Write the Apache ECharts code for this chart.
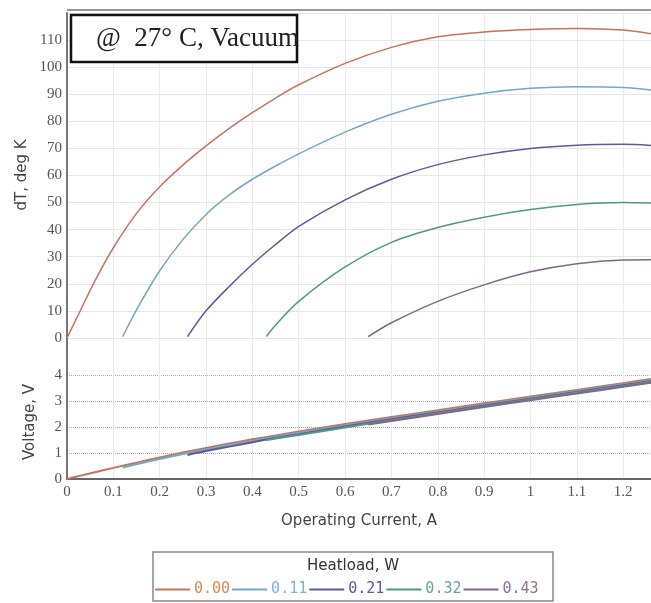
<!DOCTYPE html>
<html>
<head>
<meta charset="utf-8">
<script src="https://cdn.jsdelivr.net/npm/echarts@6/dist/echarts.min.js"></script>
<style>
  html, body { margin: 0; padding: 0; background: #fff; }
  #chart { width: 651px; height: 603px; }
</style>
</head>
<body>
<div id="chart"></div>
<script>
// heatload curves
const heatloads = ['0.00', '0.11', '0.21', '0.32', '0.43']

const current00 = [0, 0.03, 0.06, 0.1, 0.15, 0.2, 0.25, 0.3, 0.35, 0.4, 0.45, 0.5, 0.6, 0.7, 0.8, 0.9, 1.0, 1.1, 1.2, 1.26]
const dT00 = [0, 10.5, 21, 33.3, 46, 55.8, 63.8, 70.9, 77.4, 83.2, 88.6, 93.5, 101.4, 107.3, 111.2, 113, 113.9, 114.3, 113.7, 112.3]
const volt00 = [0, 0.13, 0.26, 0.43, 0.63, 0.83, 1.02, 1.2, 1.37, 1.53, 1.68, 1.83, 2.12, 2.39, 2.65, 2.92, 3.18, 3.44, 3.7, 3.86]

const current11 = [0.12, 0.15, 0.2, 0.25, 0.3, 0.35, 0.4, 0.45, 0.5, 0.6, 0.7, 0.8, 0.9, 1.0, 1.1, 1.2, 1.26]
const dT11 = [0.5, 10.4, 24.8, 36.3, 45.6, 52.8, 58.6, 63.5, 68, 76, 82.6, 87.4, 90.4, 92.2, 92.8, 92.5, 91.6]
const volt11 = [0.44, 0.57, 0.77, 0.96, 1.14, 1.31, 1.47, 1.63, 1.78, 2.07, 2.34, 2.6, 2.87, 3.13, 3.39, 3.65, 3.81]

const current21 = [0.26, 0.3, 0.35, 0.4, 0.45, 0.5, 0.6, 0.7, 0.8, 0.9, 1.0, 1.1, 1.2, 1.26]
const dT21 = [0.5, 10, 19, 27.2, 34.5, 41.2, 51, 58.6, 64, 67.6, 70, 71.2, 71.5, 71.1]
const volt21 = [0.93, 1.08, 1.25, 1.42, 1.58, 1.73, 2.03, 2.31, 2.57, 2.84, 3.1, 3.36, 3.62, 3.78]

const current32 = [0.43, 0.45, 0.5, 0.6, 0.7, 0.8, 0.9, 1.0, 1.1, 1.2, 1.26]
const dT32 = [0.5, 4.8, 13.5, 26.2, 35.3, 40.8, 44.6, 47.4, 49.3, 50, 49.8]
const volt32 = [1.5, 1.56, 1.7, 1.99, 2.27, 2.54, 2.81, 3.07, 3.33, 3.59, 3.75]

const current43 = [0.65, 0.7, 0.8, 0.9, 1.0, 1.1, 1.2, 1.26]
const dT43 = [0.5, 5.6, 13.5, 19.6, 24.4, 27.4, 28.8, 28.9]
const volt43 = [2.1, 2.24, 2.51, 2.78, 3.04, 3.3, 3.56, 3.72]

const lineColors = ['#c8735a', '#72a9c9', '#5b5a9e', '#4e9a84', '#84658c']
const legendColors = ['#d98c50', '#7eb3d6', '#5a58a8', '#5fa592', '#8e6f98']

const currents = [current00, current11, current21, current32, current43]
const dTs = [dT00, dT11, dT21, dT32, dT43]
const volts = [volt00, volt11, volt21, volt32, volt43]

const tickFont = { fontFamily: 'Liberation Serif', fontSize: 15, color: '#555' }
const nameFont = { fontFamily: 'DejaVu Sans', fontSize: 15, color: '#444' }

const chart = echarts.init(document.getElementById('chart'))

const series = []
heatloads.forEach((name, i) => {
  series.push({
    name: name,
    type: 'line',
    xAxisIndex: 0,
    yAxisIndex: 0,
    symbol: 'none',
    smooth: 0.3,
    lineStyle: { width: 1.5, color: lineColors[i] },
    itemStyle: { color: lineColors[i] },
    data: currents[i].map((c, k) => [c, dTs[i][k]])
  })
})
heatloads.forEach((name, i) => {
  series.push({
    name: name,
    type: 'line',
    xAxisIndex: 1,
    yAxisIndex: 1,
    symbol: 'none',
    smooth: 0.3,
    lineStyle: { width: 2, color: lineColors[i] },
    itemStyle: { color: lineColors[i] },
    data: currents[i].map((c, k) => [c, volts[i][k]])
  })
})

const option = {
  animation: false,
  backgroundColor: '#fff',
  grid: [
    { left: 67, right: 0, top: 13, height: 352 },
    { left: 67, right: 0, top: 365, height: 114 }
  ],
  xAxis: [
    {
      gridIndex: 0, type: 'value', min: 0, max: 1.26, interval: 0.1,
      axisLabel: { show: false },
      axisLine: { show: false },
      axisTick: { show: false },
      splitLine: { showMaxLine: false, lineStyle: { color: '#ebebeb' } }
    },
    {
      gridIndex: 1, type: 'value', min: 0, max: 1.26, interval: 0.1,
      axisLabel: Object.assign({ showMaxLabel: false, margin: 6 }, tickFont),
      axisLine: { lineStyle: { color: '#666', width: 2 } },
      axisTick: { show: false },
      splitLine: { showMaxLine: false, lineStyle: { color: '#ebebeb' } },
      name: 'Operating Current, A',
      nameLocation: 'middle',
      nameGap: 35,
      nameTextStyle: nameFont
    }
  ],
  yAxis: [
    {
      gridIndex: 0, type: 'value', min: -10, max: 120, interval: 10,
      axisLabel: Object.assign({
        showMaxLabel: false,
        margin: 5,
        formatter: v => (v < 0 ? '' : v)
      }, tickFont),
      axisLine: { show: true, lineStyle: { color: '#777', width: 2 } },
      axisTick: { show: false },
      splitLine: { showMinLine: false, lineStyle: { color: '#e6e6e6' } }
    },
    {
      gridIndex: 1, type: 'value', min: 0, max: 4.4, interval: 1,
      axisLabel: Object.assign({ showMaxLabel: false, margin: 5 }, tickFont),
      axisLine: { show: true, lineStyle: { color: '#777', width: 2 } },
      axisTick: { show: false },
      splitLine: { showMaxLine: false, lineStyle: { color: '#aaa', type: 'dotted' } },
      name: 'Voltage, V',
      nameLocation: 'middle',
      nameGap: 29,
      nameTextStyle: nameFont
    }
  ],
  legend: {
    left: 155,
    top: 582,
    itemWidth: 35,
    itemHeight: 2,
    itemGap: 2,
    icon: 'rect',
    padding: 0,
    textStyle: { fontFamily: 'DejaVu Sans Mono', fontSize: 15, padding: [0, 0, 0, -1] },
    data: heatloads.map((h, i) => ({ name: h, textStyle: { color: legendColors[i] } }))
  },
  graphic: [
    // top border of the plot
    { type: 'line', shape: { x1: 67, y1: 10, x2: 651, y2: 10 }, style: { stroke: '#999', lineWidth: 2 }, z: 5 },
    // title box
    { type: 'rect', shape: { x: 71, y: 15, width: 226, height: 47 }, style: { fill: '#fff', stroke: '#111', lineWidth: 2.5 }, z: 10 },
    {
      type: 'text', x: 96, y: 39, z: 11,
      style: { text: '@  27° C, Vacuum', font: '27px "Liberation Serif"', fill: '#222', textVerticalAlign: 'middle' }
    },
    {
      type: 'text', x: 22, y: 175, rotation: Math.PI / 2, z: 5,
      style: { text: 'dT, deg K', font: '15px "DejaVu Sans"', fill: '#444', textAlign: 'center', textVerticalAlign: 'middle' }
    },
    // legend frame and title
    { type: 'rect', shape: { x: 153, y: 552, width: 400, height: 49 }, style: { fill: 'none', stroke: '#888', lineWidth: 1.5 }, z: 1 },
    {
      type: 'text', x: 353, y: 566, z: 5,
      style: { text: 'Heatload, W', font: '15px "DejaVu Sans"', fill: '#333', textAlign: 'center', textVerticalAlign: 'middle' }
    }
  ],
  series: series
}

chart.setOption(option)
</script>
</body>
</html>
